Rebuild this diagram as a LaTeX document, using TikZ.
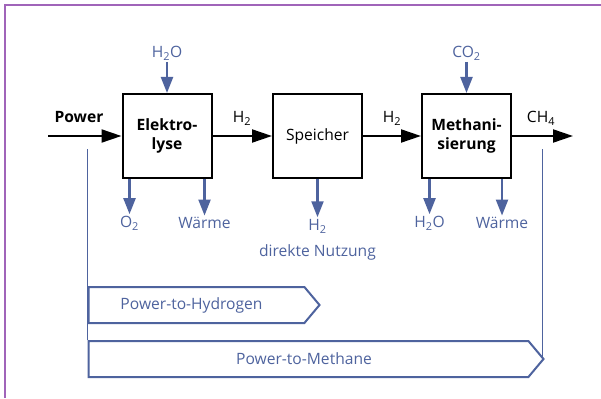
\documentclass[tikz,border=0pt]{standalone}
\usepackage{fontspec}
\setmainfont{Open Sans}
\usetikzlibrary{arrows.meta,positioning,shapes.symbols,calc}
\definecolor{flowblue}{RGB}{78,99,158}
\definecolor{framepurple}{RGB}{160,100,185}
\tikzset{
  proc/.style={rectangle,draw=black,line width=2pt,minimum width=89pt,minimum height=84pt,
    align=center,inner sep=0pt,font=\fontsize{15.6}{19}\selectfont},
  flow/.style={-{Triangle[length=20pt,width=13pt]},line width=2pt,color=black},
  side/.style={-{Triangle[length=16pt,width=12pt]},line width=2.3pt,color=flowblue},
  guide/.style={line width=1pt,color=flowblue},
  lbl/.style={font=\fontsize{15.6}{18}\selectfont,inner sep=1.5pt},
  blbl/.style={lbl,text=flowblue},
  chev/.style={signal,signal to=east,signal pointer angle=100,draw=flowblue,line width=2pt,
    fill=white,minimum height=36pt,anchor=west,text=flowblue,font=\fontsize{15.6}{18}\selectfont}
}
\begin{document}
\begin{tikzpicture}[x=1pt,y=-1pt]
    \useasboundingbox (0,0) rectangle (601,398);
    % Frame
    \draw[framepurple,line width=2pt] (4.5,398) -- (4.5,5) -- (601,5);

    % Process chain
    \node[proc] (elek) at (167,136) {\textbf{Elektro-}\\\textbf{lyse}};
    \node[proc] (speicher) at (317.5,136) {Speicher};
    \node[proc] (meth) at (466.5,136) {\textbf{Methani-}\\\textbf{sierung}};
    \coordinate (pin) at (48,136);
    \coordinate (pout) at (573,136);

    \draw[flow] (pin) -- (elek);
    \draw[flow] (elek) -- (speicher);
    \draw[flow] (speicher) -- (meth);
    \draw[flow] (meth) -- (pout);

    \node[lbl] (power) at (79,117) {\textbf{Power}};
    \node[lbl] (h2a) at (242,118) {H\textsubscript{2}};
    \node[lbl] (h2b) at (392,118) {H\textsubscript{2}};
    \node[lbl] (ch4) at (541,118) {CH\textsubscript{4}};

    % Inputs
    \node[blbl] (h2oin) at (167,53) {H\textsubscript{2}O};
    \node[blbl] (co2in) at (466.5,53) {CO\textsubscript{2}};
    \draw[side] (h2oin) -- (elek);
    \draw[side] (co2in) -- (meth);

    % Outputs
    \node[blbl] (o2) at (129.5,223) {O\textsubscript{2}};
    \node[blbl] (waerme1) at (204.5,223) {Wärme};
    \node[blbl] (h2d) at (317.5,226) {H\textsubscript{2}};
    \node[blbl] (nutz) at (317.5,252) {direkte Nutzung};
    \node[blbl] (h2oout) at (429.5,223) {H\textsubscript{2}O};
    \node[blbl] (waerme2) at (502,223) {Wärme};

    \draw[side] (o2 |- elek.south) -- (o2);
    \draw[side] (waerme1 |- elek.south) -- (waerme1);
    \draw[side] (h2d |- speicher.south) -- (h2d);
    \draw[side] (h2oout |- meth.south) -- (h2oout);
    \draw[side] (waerme2 |- meth.south) -- (waerme2);

    % Pathways
    \coordinate (gl) at (87.5,149);
    \coordinate (gr) at (542.5,149);
    \node[chev,minimum width=231pt] (pth) at (87.5,305) {};
    \node[chev,minimum width=455pt] (ptm) at (87.5,359) {};
    \draw[guide] (gl) -- (gl |- ptm.north);
    \draw[guide] (gr) -- (gr |- ptm.east);
    \node[blbl] (pthtxt) at (191.5,305) {Power-to-Hydrogen};
    \node[blbl] (ptmtxt) at (304,359) {Power-to-Methane};
\end{tikzpicture}
\end{document}
